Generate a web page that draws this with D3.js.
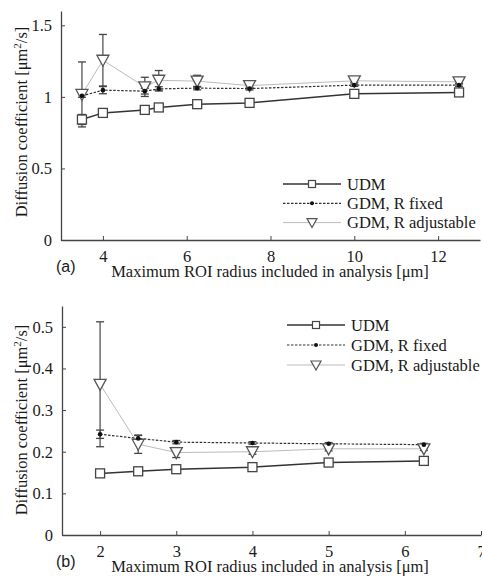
<!DOCTYPE html>
<html>
<head>
<meta charset="utf-8">
<script src="https://cdn.jsdelivr.net/npm/d3@7"></script>
<style>
  body { margin: 0; background: #fff; }
</style>
</head>
<body>
<svg id="chart" width="482" height="576"></svg>
<script>
// panel (a)
var xA = [3.5, 4, 5, 5.333, 6.25, 7.5, 10, 12.5];
var udmA = [0.842, 0.888, 0.909, 0.926, 0.949, 0.958, 1.021, 1.031];
var udmErrA = [0.035, 0.01, 0.01, 0.01, 0.008, 0.008, 0.008, 0.008];
var fixA = [1.007, 1.047, 1.040, 1.056, 1.061, 1.058, 1.082, 1.082];
var fixErrA = [0.01, 0.025, 0.02, 0.015, 0.012, 0.01, 0.008, 0.008];
var adjA = [1.017, 1.256, 1.070, 1.116, 1.110, 1.079, 1.112, 1.105];
var adjErrA = [0.227, 0.18, 0.067, 0.068, 0.041, 0.021, 0.01, 0.01];
var xTicksA = [4, 6, 8, 10, 12];
var yTicksA = [0, 0.5, 1, 1.5];

// panel (b)
var xB = [2, 2.5, 3, 4, 5, 6.25];
var udmB = [0.148, 0.153, 0.158, 0.163, 0.174, 0.178];
var udmErrB = [0.002, 0.002, 0.002, 0.002, 0.002, 0.002];
var fixB = [0.242, 0.232, 0.223, 0.221, 0.219, 0.217];
var fixErrB = [0.01, 0.007, 0.004, 0.003, 0.003, 0.003];
var adjB = [0.362, 0.218, 0.198, 0.200, 0.207, 0.207];
var adjErrB = [0.15, 0.022, 0.012, 0.006, 0.005, 0.004];
var xTicksB = [2, 3, 4, 5, 6, 7];
var yTicksB = [0, 0.1, 0.2, 0.3, 0.4, 0.5];

var seriesNames = ["UDM", "GDM, R fixed", "GDM, R adjustable"];

var svg = d3.select("#chart");
var AXIS = "#444";
var SERIF = "'Liberation Serif', 'Times New Roman', serif";
var FS = 16.5;

function drawPanel(p) {
  var x = d3.scaleLinear().domain(p.xDomain).range([p.left, p.right]);
  var y = d3.scaleLinear().domain(p.yDomain).range([p.bottom, p.top]);
  var g = svg.append("g");

  // axes, ticks pointing inward like matlab
  var xa = g.append("g").attr("transform", "translate(0," + p.bottom + ")")
    .call(d3.axisBottom(x).tickValues(p.xTicks).tickSizeInner(-4).tickSizeOuter(0).tickPadding(0).tickFormat(d3.format("")));
  var ya = g.append("g").attr("transform", "translate(" + p.left + ",0)")
    .call(d3.axisLeft(y).tickValues(p.yTicks).tickSizeInner(-4).tickSizeOuter(0).tickPadding(9).tickFormat(d3.format("")));
  [xa, ya].forEach(function(a) {
    a.select(".domain").attr("stroke", AXIS).attr("stroke-width", 1.3);
    a.selectAll(".tick line").attr("stroke", AXIS);
    a.selectAll(".tick text").style("font-family", SERIF).style("font-size", FS + "px").attr("fill", "#1a1a1a");
  });
  xa.selectAll(".tick text").attr("y", 22).attr("dy", null);

  g.append("text")
    .attr("transform", "translate(" + p.yLabelX + "," + p.yLabelY + ") rotate(-90)")
    .attr("text-anchor", "middle").style("font-family", SERIF).style("font-size", FS + "px").attr("fill", "#1a1a1a")
    .html('Diffusion coefficient [μm<tspan dy="-6" font-size="11">2</tspan><tspan dy="6">/s]</tspan>');
  g.append("text").attr("x", 270).attr("y", p.xLabelY).attr("text-anchor", "middle")
    .style("font-family", SERIF).style("font-size", FS + "px").attr("fill", "#1a1a1a")
    .text("Maximum ROI radius included in analysis [μm]");
  g.append("text").attr("x", 56).attr("y", p.tagY).attr("fill", "#1a1a1a")
    .style("font-family", "'Liberation Sans', Arial, sans-serif").style("font-size", "16px").text(p.tag);

  var line = d3.line().x(function(d) { return x(d[0]); }).y(function(d) { return y(d[1]); });
  function pts(xs, ys) { return xs.map(function(v, i) { return [v, ys[i]]; }); }

  // error bars
  function errBars(xs, ys, es, w) {
    xs.forEach(function(v, i) {
      var cx = x(v), y0 = y(ys[i] - es[i]), y1 = y(ys[i] + es[i]);
      g.append("line").attr("x1", cx).attr("x2", cx).attr("y1", y0).attr("y2", y1).attr("stroke", "#555").attr("stroke-width", 1.3);
      [y0, y1].forEach(function(yy) {
        g.append("line").attr("x1", cx - w).attr("x2", cx + w).attr("y1", yy).attr("y2", yy).attr("stroke", "#444").attr("stroke-width", 1.3);
      });
    });
  }
  errBars(p.xs, p.adj, p.adjErr, 4);
  errBars(p.xs, p.fix, p.fixErr, 4);
  errBars(p.xs, p.udm, p.udmErr, 4);

  // lines
  g.append("path").attr("d", line(pts(p.xs, p.adj))).attr("fill", "none").attr("stroke", "#bbb").attr("stroke-width", 1);
  g.append("path").attr("d", line(pts(p.xs, p.fix))).attr("fill", "none").attr("stroke", "#333").attr("stroke-width", 1.2).attr("stroke-dasharray", "2.5,1.5");
  g.append("path").attr("d", line(pts(p.xs, p.udm))).attr("fill", "none").attr("stroke", "#333").attr("stroke-width", 1.5);

  // markers
  var tri = "M-6,-5L6,-5L0,6Z";
  g.selectAll(".tri").data(pts(p.xs, p.adj)).enter().append("path")
    .attr("d", tri).attr("transform", function(d) { return "translate(" + x(d[0]) + "," + y(d[1]) + ")"; })
    .attr("fill", "#fff").attr("stroke", "#555").attr("stroke-width", 1.3);
  g.selectAll(".dot").data(pts(p.xs, p.fix)).enter().append("circle")
    .attr("cx", function(d) { return x(d[0]); }).attr("cy", function(d) { return y(d[1]); })
    .attr("r", 2.3).attr("fill", "#111");
  g.selectAll(".sq").data(pts(p.xs, p.udm)).enter().append("rect")
    .attr("x", function(d) { return x(d[0]) - 4.5; }).attr("y", function(d) { return y(d[1]) - 4.5; })
    .attr("width", 9).attr("height", 9).attr("fill", "#fff").attr("stroke", "#444").attr("stroke-width", 1.3);

  // legend
  var lg = g.append("g").attr("transform", "translate(" + p.legX + "," + p.legY + ")");
  lg.append("rect").attr("x", -3).attr("y", -11).attr("width", 482 - p.legX + 3).attr("height", 62).attr("fill", "#fff");
  var styles = [
    { stroke: "#333", w: 1.5, dash: null },
    { stroke: "#333", w: 1.2, dash: "2.5,1.5" },
    { stroke: "#bbb", w: 1, dash: null }
  ];
  seriesNames.forEach(function(name, i) {
    var ly = i * p.legGap;
    lg.append("line").attr("x1", 0).attr("x2", 58).attr("y1", ly).attr("y2", ly)
      .attr("stroke", styles[i].stroke).attr("stroke-width", styles[i].w).attr("stroke-dasharray", styles[i].dash);
    if (i === 0) lg.append("rect").attr("x", 25.5).attr("y", ly - 3.5).attr("width", 7).attr("height", 7).attr("fill", "#fff").attr("stroke", "#444").attr("stroke-width", 1.2);
    if (i === 1) lg.append("circle").attr("cx", 29).attr("cy", ly).attr("r", 2).attr("fill", "#111");
    if (i === 2) lg.append("path").attr("d", "M-5,-4L5,-4L0,5Z").attr("transform", "translate(29," + ly + ")").attr("fill", "#fff").attr("stroke", "#555").attr("stroke-width", 1.2);
    lg.append("text").attr("x", 64).attr("y", ly + 5.5).attr("fill", "#1a1a1a")
      .style("font-family", SERIF).style("font-size", FS + "px").text(name);
  });
}

drawPanel({
  tag: "(a)", xDomain: [3, 13], yDomain: [0, 1.6],
  left: 61, right: 480, top: 11, bottom: 240,
  xTicks: xTicksA, yTicks: yTicksA, yLabelX: 27, yLabelY: 122, xLabelY: 277, tagY: 272,
  xs: xA, udm: udmA, udmErr: udmErrA, fix: fixA, fixErr: fixErrA, adj: adjA, adjErr: adjErrA,
  legX: 283, legY: 184, legGap: 19.3
});

drawPanel({
  tag: "(b)", xDomain: [1.5, 7], yDomain: [0, 0.55],
  left: 62, right: 481, top: 306, bottom: 535,
  xTicks: xTicksB, yTicks: yTicksB, yLabelX: 27, yLabelY: 420, xLabelY: 572, tagY: 567,
  xs: xB, udm: udmB, udmErr: udmErrB, fix: fixB, fixErr: fixErrB, adj: adjB, adjErr: adjErrB,
  legX: 287, legY: 325, legGap: 20
});
</script>
</body>
</html>
